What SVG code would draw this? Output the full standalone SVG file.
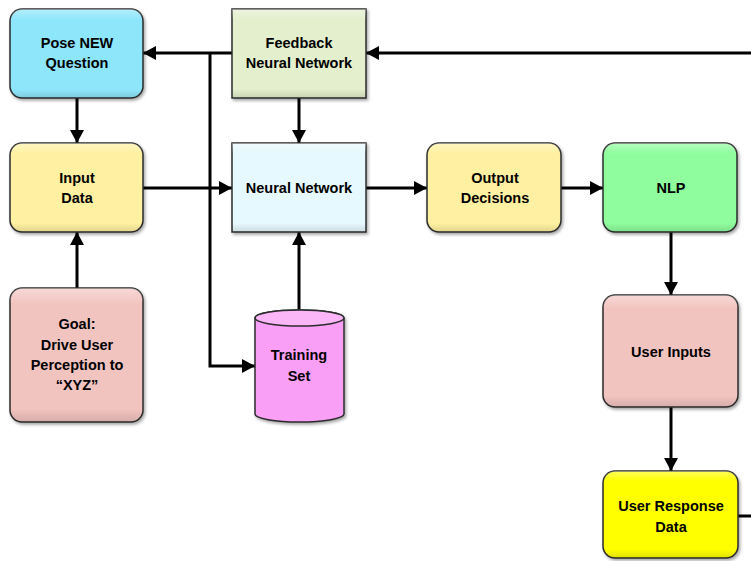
<svg xmlns="http://www.w3.org/2000/svg" width="751" height="561" viewBox="0 0 751 561">
  <style>
    .box { stroke: #2b2b2b; stroke-width: 1.5; filter: url(#shadow); }
    .lbl { font-family: "Liberation Sans", Arial, sans-serif; font-weight: bold; font-size: 14.5px; fill: #000; text-anchor: middle; }
    .wire { fill: none; stroke: #000; stroke-width: 3; }
  </style>
  <defs>
    <filter id="shadow" x="-10%" y="-10%" width="125%" height="125%">
      <feDropShadow dx="1.5" dy="2" stdDeviation="1.5" flood-color="#000" flood-opacity="0.35"/>
    </filter>
    <linearGradient id="sheen" x1="0" y1="0" x2="0" y2="1">
      <stop offset="0" stop-color="#fff" stop-opacity="0.35"/>
      <stop offset="0.12" stop-color="#fff" stop-opacity="0"/>
      <stop offset="0.9" stop-color="#000" stop-opacity="0"/>
      <stop offset="1" stop-color="#000" stop-opacity="0.12"/>
    </linearGradient>
    <marker id="arrow" markerUnits="userSpaceOnUse" markerWidth="13" markerHeight="14" refX="13" refY="7" orient="auto">
      <path d="M0,0 L13,7 L0,14 z" fill="#000"/>
    </marker>
  </defs>

  <rect width="751" height="561" fill="#fff"/>

  <!-- connectors -->
  <g id="connectors">
    <line class="wire" x1="232" y1="53" x2="143" y2="53" marker-end="url(#arrow)"/>
    <polyline class="wire" points="210,53 210,366 255,366" marker-end="url(#arrow)"/>
    <line class="wire" x1="751" y1="53" x2="366" y2="53" marker-end="url(#arrow)"/>
    <line class="wire" x1="77" y1="98" x2="77" y2="143" marker-end="url(#arrow)"/>
    <line class="wire" x1="299" y1="98" x2="299" y2="143" marker-end="url(#arrow)"/>
    <line class="wire" x1="143" y1="188" x2="232" y2="188" marker-end="url(#arrow)"/>
    <line class="wire" x1="366" y1="188" x2="427" y2="188" marker-end="url(#arrow)"/>
    <line class="wire" x1="561" y1="188" x2="603" y2="188" marker-end="url(#arrow)"/>
    <line class="wire" x1="77" y1="288" x2="77" y2="232" marker-end="url(#arrow)"/>
    <line class="wire" x1="299" y1="310" x2="299" y2="232" marker-end="url(#arrow)"/>
    <line class="wire" x1="671" y1="232" x2="671" y2="295" marker-end="url(#arrow)"/>
    <line class="wire" x1="671" y1="407" x2="671" y2="471" marker-end="url(#arrow)"/>
    <line class="wire" x1="738" y1="516" x2="751" y2="516"/>
  </g>

  <g id="pose-question">
    <rect class="box" x="10" y="9" width="133" height="89" rx="12" fill="#8ee6fb"/>
    <rect x="10" y="9" width="133" height="89" rx="12" fill="url(#sheen)"/>
    <text class="lbl" x="77" y="48">Pose NEW</text>
    <text class="lbl" x="77" y="68">Question</text>
  </g>

  <g id="feedback-nn">
    <rect class="box" x="232" y="9" width="134" height="89" fill="#e3efcd"/>
    <rect x="232" y="9" width="134" height="89" fill="url(#sheen)"/>
    <text class="lbl" x="299" y="48">Feedback</text>
    <text class="lbl" x="299" y="68">Neural Network</text>
  </g>

  <g id="input-data">
    <rect class="box" x="10" y="143" width="133" height="89" rx="12" fill="#fff1a1"/>
    <rect x="10" y="143" width="133" height="89" rx="12" fill="url(#sheen)"/>
    <text class="lbl" x="77" y="183">Input</text>
    <text class="lbl" x="77" y="203">Data</text>
  </g>

  <g id="neural-network">
    <rect class="box" x="232" y="143" width="134" height="89" fill="#e6f9fe"/>
    <rect x="232" y="143" width="134" height="89" fill="url(#sheen)"/>
    <text class="lbl" x="299" y="193">Neural Network</text>
  </g>

  <g id="output-decisions">
    <rect class="box" x="427" y="143" width="134" height="89" rx="12" fill="#fff1a1"/>
    <rect x="427" y="143" width="134" height="89" rx="12" fill="url(#sheen)"/>
    <text class="lbl" x="495" y="183">Output</text>
    <text class="lbl" x="495" y="203">Decisions</text>
  </g>

  <g id="nlp">
    <rect class="box" x="603" y="143" width="134" height="89" rx="12" fill="#8ffd9d"/>
    <rect x="603" y="143" width="134" height="89" rx="12" fill="url(#sheen)"/>
    <text class="lbl" x="671" y="193">NLP</text>
  </g>

  <g id="goal">
    <rect class="box" x="10" y="288" width="133" height="134" rx="12" fill="#f2c4c0"/>
    <rect x="10" y="288" width="133" height="134" rx="12" fill="url(#sheen)"/>
    <text class="lbl" x="77" y="329">Goal:</text>
    <text class="lbl" x="77" y="350">Drive User</text>
    <text class="lbl" x="77" y="370">Perception to</text>
    <text class="lbl" x="77" y="390">“XYZ”</text>
  </g>

  <g id="training-set">
    <path class="box" d="M255,318 A44.5,8 0 0 1 344,318 L344,414 A44.5,8 0 0 1 255,414 Z" fill="#f99ff6"/>
    <ellipse cx="299.5" cy="318" rx="44.5" ry="8" fill="#fbb6f8" stroke="#2b2b2b" stroke-width="1.5"/>
    <text class="lbl" x="299" y="360">Training</text>
    <text class="lbl" x="299" y="381">Set</text>
  </g>

  <g id="user-inputs">
    <rect class="box" x="603" y="295" width="135" height="112" rx="12" fill="#f2c4c0"/>
    <rect x="603" y="295" width="135" height="112" rx="12" fill="url(#sheen)"/>
    <text class="lbl" x="671" y="357">User Inputs</text>
  </g>

  <g id="user-response">
    <rect class="box" x="603" y="471" width="135" height="87" rx="12" fill="#ffff00"/>
    <rect x="603" y="471" width="135" height="87" rx="12" fill="url(#sheen)"/>
    <text class="lbl" x="671" y="511">User Response</text>
    <text class="lbl" x="671" y="532">Data</text>
  </g>
</svg>
